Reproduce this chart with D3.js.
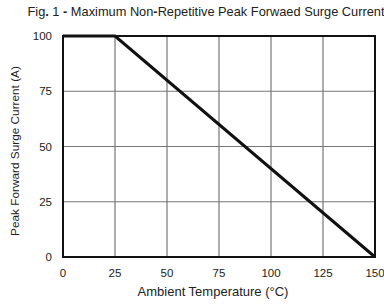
<!DOCTYPE html>
<html>
<head>
<meta charset="utf-8">
<script src="https://cdn.jsdelivr.net/npm/d3@7"></script>
<style>
  body { margin: 0; background: #fff; }
  text { font-family: "Liberation Sans", Arial, sans-serif; fill: #222; }
</style>
</head>
<body>
<svg id="chart" width="384" height="305"></svg>
<script>
const temperature = [0, 25, 150]
const current = [100, 100, 0]
const xTicks = [0, 25, 50, 75, 100, 125, 150]
const yTicks = [0, 25, 50, 75, 100]

const margin = { left: 63, right: 9, top: 36, bottom: 48 }
const width = 384
const height = 305

const svg = d3.select('#chart')

const x = d3.scaleLinear().domain([0, 150]).range([margin.left, width - margin.right])
const y = d3.scaleLinear().domain([0, 100]).range([height - margin.bottom, margin.top])

// grid
svg.append('g')
  .selectAll('line')
  .data(xTicks.slice(1, -1))
  .enter()
  .append('line')
  .attr('x1', (d) => x(d))
  .attr('x2', (d) => x(d))
  .attr('y1', y(0))
  .attr('y2', y(100))
  .attr('stroke', '#777')
  .attr('stroke-width', 1.2)

svg.append('g')
  .selectAll('line')
  .data(yTicks.slice(1, -1))
  .enter()
  .append('line')
  .attr('x1', x(0))
  .attr('x2', x(150))
  .attr('y1', (d) => y(d))
  .attr('y2', (d) => y(d))
  .attr('stroke', '#777')
  .attr('stroke-width', 1.2)

// frame
svg.append('rect')
  .attr('x', x(0))
  .attr('y', y(100))
  .attr('width', x(150) - x(0))
  .attr('height', y(0) - y(100))
  .attr('fill', 'none')
  .attr('stroke', '#111')
  .attr('stroke-width', 2)

// tick labels
svg.append('g')
  .selectAll('text')
  .data(yTicks)
  .enter()
  .append('text')
  .attr('x', 52)
  .attr('y', (d) => y(d) + 4)
  .attr('text-anchor', 'end')
  .attr('font-size', 11.5)
  .text((d) => d)

svg.append('g')
  .selectAll('text')
  .data(xTicks)
  .enter()
  .append('text')
  .attr('x', (d) => x(d))
  .attr('y', 277)
  .attr('text-anchor', 'middle')
  .attr('font-size', 11.5)
  .text((d) => d)

// curve
const line = d3.line()
  .x((d) => x(d[0]))
  .y((d) => y(d[1]))

svg.append('path')
  .datum(d3.zip(temperature, current))
  .attr('d', line)
  .attr('fill', 'none')
  .attr('stroke', '#111')
  .attr('stroke-width', 3)

// titles
svg.append('text')
  .attr('x', 213)
  .attr('y', 296)
  .attr('text-anchor', 'middle')
  .attr('font-size', 13)
  .text('Ambient Temperature (°C)')

svg.append('text')
  .attr('transform', 'translate(19,151) rotate(-90)')
  .attr('text-anchor', 'middle')
  .attr('font-size', 11.8)
  .text('Peak Forward Surge Current (A)')

const title = svg.append('text')
  .attr('x', 206)
  .attr('y', 16)
  .attr('text-anchor', 'middle')
  .attr('font-size', 12.8)
title.append('tspan').text('Fig')
title.append('tspan').attr('font-weight', 'bold').text('.')
title.append('tspan').text(' 1 ')
title.append('tspan').attr('font-weight', 'bold').text('-')
title.append('tspan').text(' Maximum Non')
title.append('tspan').attr('font-weight', 'bold').text('-')
title.append('tspan').text('Repetitive Peak Forwaed Surge Current')
</script>
</body>
</html>
